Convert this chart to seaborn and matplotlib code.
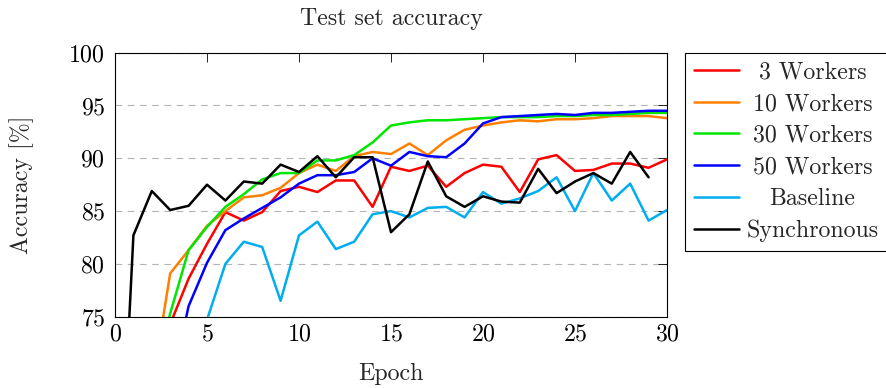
import matplotlib
matplotlib.use("Agg")
import matplotlib.pyplot as plt
import seaborn as sns
import pandas as pd

# accuracy per epoch, each series starts at the given epoch
start_3 = 3
acc_3 = [74.3, 78.6, 81.9, 84.9, 84.1, 84.9, 86.9, 87.3, 86.8, 87.9, 87.9, 85.4, 89.2,
         88.8, 89.3, 87.3, 88.6, 89.4, 89.2, 86.8, 89.9, 90.3, 88.8, 88.9, 89.5, 89.5, 89.1, 89.9]
start_10 = 2
acc_10 = [68.3, 79.1, 81.3, 83.6, 85.0, 86.3, 86.5, 87.2, 88.6, 89.4, 88.8, 90.2, 90.6, 90.4,
          91.4, 90.3, 91.7, 92.7, 93.1, 93.4, 93.6, 93.5, 93.7, 93.7, 93.8, 94.0, 94.0, 94.0, 93.8]
start_30 = 2
acc_30 = [68.0, 75.3, 81.3, 83.5, 85.4, 86.6, 88.0, 88.6, 88.6, 89.8, 89.8, 90.3, 91.5, 93.1,
          93.4, 93.6, 93.6, 93.7, 93.8, 93.9, 93.9, 93.9, 94.0, 94.0, 94.1, 94.1, 94.2, 94.3, 94.3]
start_50 = 3
acc_50 = [68.0, 76.0, 80.1, 83.2, 84.3, 85.3, 86.3, 87.6, 88.4, 88.4, 88.7, 90.0, 89.3,
          90.6, 90.2, 90.1, 91.4, 93.3, 93.9, 94.0, 94.1, 94.2, 94.1, 94.3, 94.3, 94.4, 94.5, 94.5]
start_base = 5
acc_base = [74.7, 80.0, 82.1, 81.6, 76.5, 82.7, 84.0, 81.4, 82.1, 84.7, 85.0, 84.4, 85.3,
            85.4, 84.4, 86.8, 85.7, 86.2, 86.9, 88.2, 85.0, 88.6, 86.0, 87.6, 84.1, 85.1]
start_sync = 0
acc_sync = [47.7, 82.7, 86.9, 85.1, 85.5, 87.5, 86.0, 87.8, 87.6, 89.4, 88.7, 90.2, 88.2, 90.1,
            90.1, 83.0, 84.7, 89.7, 86.4, 85.4, 86.4, 85.9, 85.8, 89.0, 86.7, 87.8, 88.6, 87.6,
            90.6, 88.2]

names = ["3 Workers", "10 Workers", "30 Workers", "50 Workers", "Baseline", "Synchronous"]
colors = ["#ff0000", "#ff8000", "#00e600", "#0000ff", "#00aeef", "#000000"]

rows = []
for name, start, vals in zip(names,
                             [start_3, start_10, start_30, start_50, start_base, start_sync],
                             [acc_3, acc_10, acc_30, acc_50, acc_base, acc_sync]):
    for i, v in enumerate(vals):
        rows.append({"Epoch": start + i, "Accuracy": v, "Series": name})
df = pd.DataFrame(rows)

sns.set_style("white")
plt.rcParams["font.family"] = "cmr10"
plt.rcParams["mathtext.fontset"] = "cm"
plt.rcParams["axes.formatter.use_mathtext"] = True
fs = 17.2

fig = plt.figure(figsize=(8.86, 3.88), dpi=100)
ax = fig.add_axes([0.1298, 0.1838, 0.623, 0.6804])

sns.lineplot(data=df, x="Epoch", y="Accuracy", hue="Series", hue_order=names,
             palette=dict(zip(names, colors)), estimator=None, sort=False,
             linewidth=1.8, legend=False, ax=ax)

ax.set_xlim(0, 30)
ax.set_ylim(75, 100)
ax.set_xticks([0, 5, 10, 15, 20, 25, 30])
ax.set_yticks([75, 80, 85, 90, 95, 100])
ax.yaxis.grid(True, color="#b4b4b4", linestyle=(0, (6, 5)), linewidth=0.8)
ax.xaxis.grid(False)
ax.set_axisbelow(True)
for s in ax.spines.values():
    s.set_color("black")
    s.set_linewidth(0.8)
ax.tick_params(direction="in", length=6.8, width=0.6, top=True, right=True,
               labelsize=fs, colors="black")
ax.tick_params(axis="y", pad=7.0)
ax.tick_params(axis="x", pad=5.0)

ax.set_xlabel("Epoch", fontsize=fs, va="baseline")
ax.xaxis.set_label_coords(0.5, -0.24)
ax.set_ylabel("Accuracy [%]", fontsize=fs)
ax.yaxis.label.set(rotation_mode="anchor", va="baseline", ha="center")
ax.yaxis.set_label_coords(-0.158, 0.5)
fig.text(0.4413, 1 - 25 / 388, "Test set accuracy", fontsize=fs, ha="center", va="baseline")

leg = ax.legend(ax.lines[:6], names, loc="upper left", bbox_to_anchor=(685 / 886, 1 - 52.7 / 388),
                bbox_transform=fig.transFigure, borderaxespad=0, fontsize=fs, frameon=True,
                fancybox=False, framealpha=1, edgecolor="black", handlelength=1.88,
                handletextpad=0.33, borderpad=0.36, labelspacing=0.40)
leg.get_frame().set_linewidth(0.8)

# center legend labels like pgfplots does
fig.canvas.draw()
r = fig.canvas.get_renderer()
texts = leg.get_texts()
widths = [t.get_window_extent(r).width for t in texts]
wmax = max(widths)
for t, w in zip(texts, widths):
    t.set_x((wmax - w) / 2)

fig.savefig("out.png", dpi=100)
